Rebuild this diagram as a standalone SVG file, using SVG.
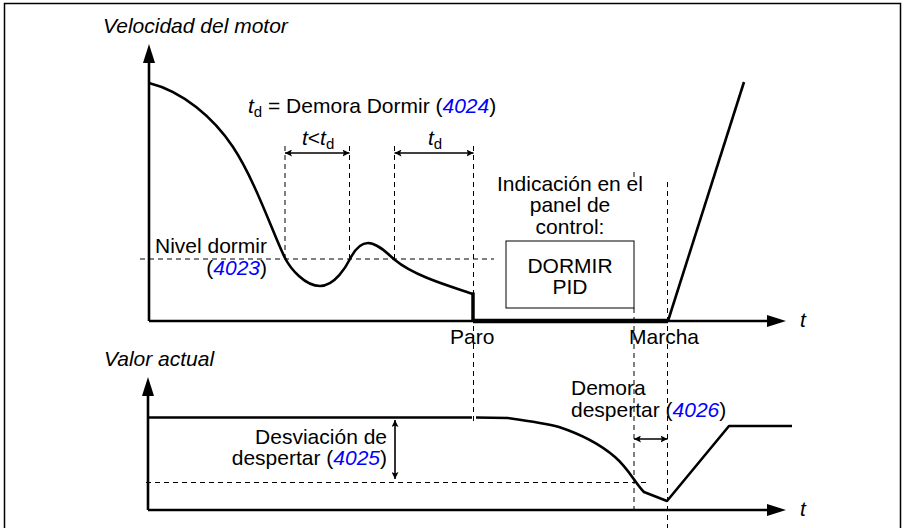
<svg xmlns="http://www.w3.org/2000/svg" width="904" height="528" viewBox="0 0 904 528">
<defs>
<style>
text{font-family:"Liberation Sans",Arial,sans-serif;font-size:21px;fill:#000}
.it{font-style:italic}
.ref{fill:#0000ff;font-style:italic}
.sub{font-size:15px}
.mid{text-anchor:middle}
.end{text-anchor:end}
.axis{stroke:#000;stroke-width:2.6;fill:none}
.curve{stroke:#000;stroke-width:2.6;fill:none;stroke-linejoin:round}
.dash{stroke:#000;stroke-width:1;stroke-dasharray:5 4;fill:none}
.dim{stroke:#000;stroke-width:1.6;fill:none}
</style>
<marker id="ax" markerUnits="userSpaceOnUse" markerWidth="19" markerHeight="12" viewBox="0 0 19 12" refX="0" refY="6" orient="auto"><path d="M0,0 L19,6 L0,12 z" fill="#000"/></marker>
<marker id="sm" markerUnits="userSpaceOnUse" markerWidth="7" markerHeight="7" viewBox="0 0 7 7" refX="7" refY="3.5" orient="auto-start-reverse"><path d="M0,0 L7,3.5 L0,7 L1.5,3.5 z" fill="#000"/></marker>
</defs>

<g id="frame"><path d="M4.5,528 V3.5 H900.5 V528" stroke="#000" stroke-width="1.5" fill="none"/></g>

<g id="guides">
<path class="dash" d="M140,259 H494"/>
<path class="dash" d="M285,146 V259"/>
<path class="dash" d="M349.5,146 V259"/>
<path class="dash" d="M394.5,146 V259"/>
<path class="dash" d="M473.5,146 V423"/>
<path class="dash" d="M634,172 V178 M634,308 V512"/>
<path class="dash" d="M667.5,182 V528"/>
<path class="dash" d="M146,482.5 H646"/>
</g>

<g id="speed-chart">
<line class="axis" x1="149" y1="321" x2="149" y2="63" marker-end="url(#ax)"/>
<line class="axis" x1="149" y1="321" x2="767" y2="321" marker-end="url(#ax)"/>
<path stroke="#000" stroke-width="4.5" fill="none" d="M473,321 H668"/>
<path class="curve" d="M149,83 C183,91.5 213.6,117.9 233,147 C255.2,180.3 273.8,235.7 285,258 C290.4,268.7 305,286 320,286 C335,286 346.4,266.1 350,259 C353.6,251.9 360,243 368,243 C378,243 388.8,254.9 395,260 C414.3,276 449.3,286 473,294"/>
<path stroke="#000" stroke-width="3.5" fill="none" d="M473,292.5 V321"/>
<path class="curve" d="M668,321 L744,82"/>
<text class="it" x="800" y="327">t</text>
</g>

<g id="actual-chart">
<line class="axis" x1="148" y1="510" x2="148" y2="396" marker-end="url(#ax)"/>
<line class="axis" x1="148" y1="510" x2="767" y2="510" marker-end="url(#ax)"/>
<path class="curve" d="M148,417.5 H472"/>
<path class="curve" d="M476,417.5 L508,418 C530,421 545,423 559,427 C580,434 600,444 615,457 C628,468 636,484 644,492 L667,501 L729,426 H792"/>
<text class="it" x="800" y="516">t</text>
</g>

<g id="dimensions">
<line class="dim" x1="285" y1="153" x2="349.5" y2="153" marker-start="url(#sm)" marker-end="url(#sm)"/>
<line class="dim" x1="394.5" y1="153" x2="473.5" y2="153" marker-start="url(#sm)" marker-end="url(#sm)"/>
<line class="dim" x1="395" y1="420" x2="395" y2="479" marker-start="url(#sm)" marker-end="url(#sm)"/>
<line class="dim" x1="634" y1="439" x2="667.5" y2="439" marker-start="url(#sm)" marker-end="url(#sm)"/>
</g>

<g id="labels">
<text class="it" x="103" y="33">Velocidad del motor</text>
<text x="248" y="113"><tspan class="it">t</tspan><tspan class="sub" dy="4">d</tspan><tspan dy="-4"> = Demora Dormir (</tspan><tspan class="ref">4024</tspan>)</text>
<text x="302" y="145"><tspan class="it">t</tspan>&lt;<tspan class="it">t</tspan><tspan class="sub" dy="4">d</tspan></text>
<text x="428" y="145"><tspan class="it">t</tspan><tspan class="sub" dy="4">d</tspan></text>
<text class="end" x="267" y="253"><tspan x="267" y="253">Nivel dormir</tspan><tspan x="267" y="275">(<tspan class="ref">4023</tspan>)</tspan></text>
<text class="mid" x="570" y="190.5"><tspan x="570" y="190.5">Indicación en el</tspan><tspan x="570" y="212">panel de</tspan><tspan x="570" y="233.5">control:</tspan></text>
<text x="450" y="344">Paro</text>
<text x="629" y="344">Marcha</text>
<text class="it" x="104" y="366">Valor actual</text>
<text class="end" x="387" y="443.5"><tspan x="387" y="443.5">Desviación de</tspan><tspan x="387" y="465">despertar (<tspan class="ref">4025</tspan>)</tspan></text>
<text x="571" y="395"><tspan x="571" y="395">Demora</tspan><tspan x="571" y="416.5">despertar (<tspan class="ref">4026</tspan>)</tspan></text>
</g>

<g id="panel-box">
<rect x="506" y="241" width="128" height="67" fill="none" stroke="#000" stroke-width="1"/>
<text class="mid" x="570" y="273"><tspan x="570" y="273">DORMIR</tspan><tspan x="570" y="294">PID</tspan></text>
</g>
</svg>
